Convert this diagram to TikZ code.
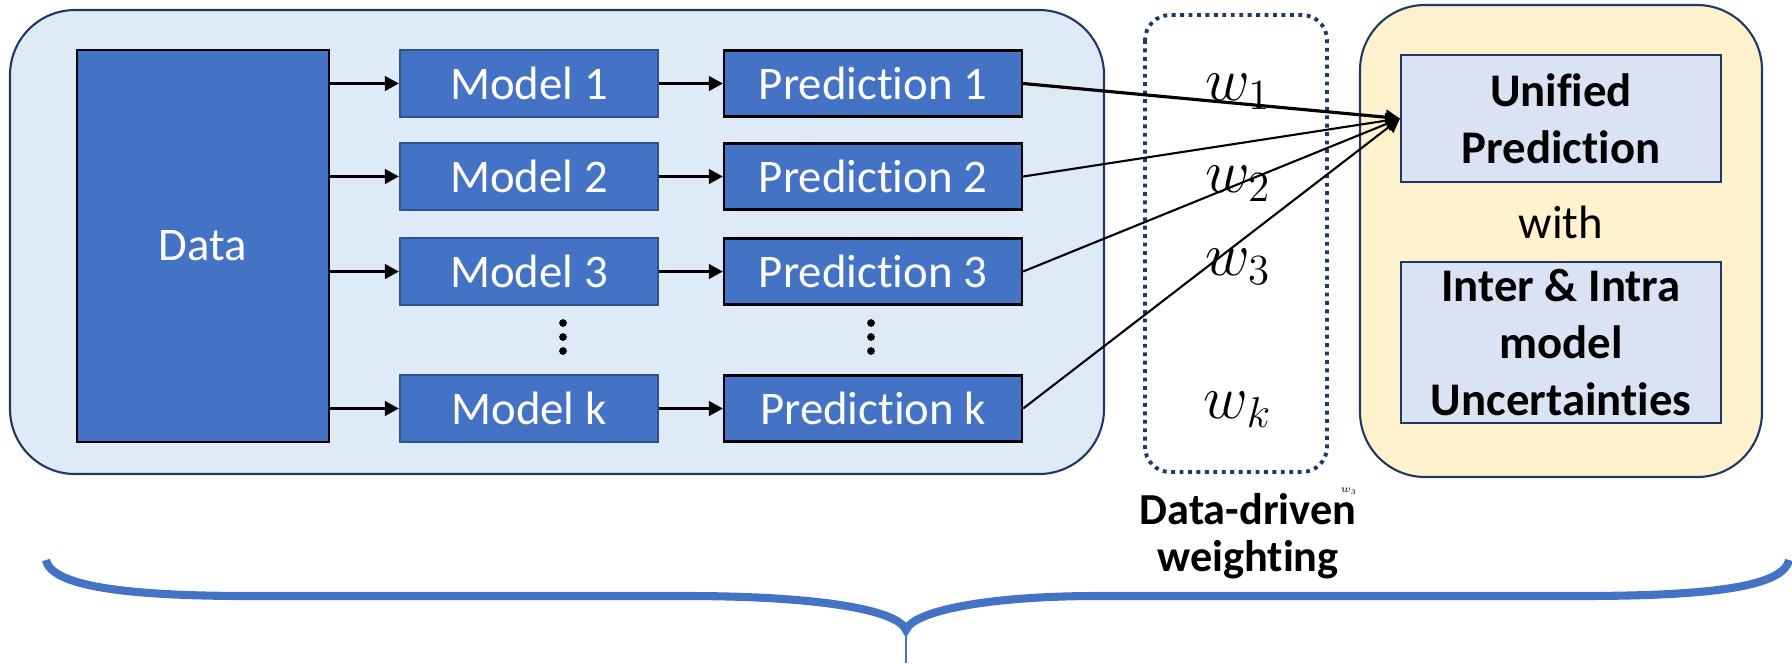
\RequirePackage{fix-cm}
\documentclass[tikz,border=0pt]{standalone}
\usepackage[no-math]{fontspec}
\setmainfont{Carlito}[Ligatures=NoCommon]
\usepackage{tikz}
\usetikzlibrary{arrows.meta,calc}
\definecolor{boxblue}{HTML}{4472C4}
\definecolor{boxedge}{HTML}{2F528F}
\definecolor{navy}{HTML}{203864}
\definecolor{paleblue}{HTML}{DEEBF7}
\definecolor{paleyellow}{HTML}{FFF2CC}
\definecolor{resultfill}{HTML}{DAE3F3}
\tikzset{
	block/.style={draw=black, line width=0.6pt, fill=boxblue, text=white, inner sep=0pt, font=\fontsize{13.3}{16}\selectfont},
	modelbox/.style={block, draw=boxedge, minimum width=2.58cm, minimum height=0.67cm},
	predbox/.style={block, minimum width=2.98cm, minimum height=0.66cm},
	panel/.style={draw=navy, line width=0.6pt, rounded corners=0.65cm},
	resultbox/.style={draw=navy, line width=0.6pt, fill=resultfill, inner sep=0pt, align=center, font=\bfseries\fontsize{13.3}{16.3}\selectfont},
	link/.style={-{Triangle[length=4pt,width=4.2pt]}, line width=0.6pt},
	weight/.style={anchor=base, font=\fontsize{17.5}{20}\selectfont},
}

\begin{document}
\begin{tikzpicture}[x=0.01cm,y=-0.01cm]
	\useasboundingbox (0,0) rectangle (1792,663);

	\draw[panel, fill=paleblue] (10,10) rectangle (1104,474);
	\draw[panel, fill=paleyellow] (1360,5) rectangle (1762,477);
	\draw[navy, line width=1.1pt, dash pattern=on 1.1pt off 1.3pt, rounded corners=0.25cm] (1145,15) rectangle (1327,472);

	\node[block, minimum width=2.52cm, minimum height=3.92cm] (data) at (203,246) {Data};
	\node[resultbox, minimum width=3.2cm, minimum height=1.27cm] (unified) at (1561,118.5) {Unified\\Prediction};
	\node[font=\fontsize{13.3}{16}\selectfont] (with) at (1561,222) {with};
	\node[resultbox, minimum width=3.19cm, minimum height=1.61cm] (uncert) at (1561,342.5) {Inter \& Intra\\model\\Uncertainties};

	\foreach \i/\y in {1/83.5,2/176.5,3/271.5,k/408.5} {
		\node[modelbox] (model\i) at (529,\y) {Model \i};
		\node[predbox] (pred\i) at (873,\y) {Prediction \i};
		\draw[link] (data.east |- model\i.west) -- (model\i.west);
		\draw[link] (model\i.east) -- (pred\i.west);
	}

	\foreach \i/\y in {1/100,2/192,3/275,k/418}
		\node[weight] (w\i) at (1238,\y) {$w_\i$};

	\draw[link, line width=0.9pt] (pred1.east) -- (unified.west);
	\foreach \i in {2,3,k}
		\draw[link] (pred\i.east) -- (unified.west);

	\foreach \x/\n in {563/mdots,871/pdots} {
		\coordinate (\n) at (\x,337);
		\foreach \d in {-14,0,14}
			\fill ($(\n)+(0,\d)$) circle (1.1pt);
	}

	\node[font=\fontsize{3}{3}\selectfont] (wtiny) at (1349,491) {$w_3$};
	\node[align=center, font=\bfseries\fontsize{12.6}{13.2}\selectfont] (weighting) at (1248,536) {Data-driven\\weighting};

	\coordinate (braceL) at (46,560);
	\coordinate (braceM) at (906,630);
	\coordinate (braceR) at (1789,560);
	\draw[boxblue, line width=2.3pt] (braceL) .. controls (52,590) and (150,596) .. (251,596) -- (686,596)
		.. controls (820,596) and (898,610) .. (braceM)
		.. controls (914,610) and (992,596) .. (1097,596) -- (1577,596)
		.. controls (1690,596) and (1783,590) .. (braceR);
	\draw[boxblue, line width=0.8pt] (braceM) -- (906,663);
\end{tikzpicture}
\end{document}
